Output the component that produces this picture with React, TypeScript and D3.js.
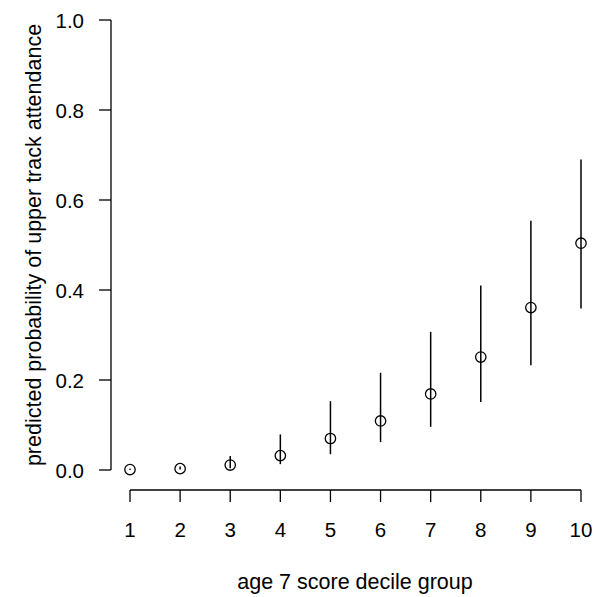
import React from "react";
import * as d3 from "d3";

const groups = [1, 2, 3, 4, 5, 6, 7, 8, 9, 10];
const estimates = [0.001, 0.003, 0.011, 0.032, 0.070, 0.109, 0.169, 0.251, 0.361, 0.504];
const lowers = [0.0, 0.001, 0.004, 0.013, 0.035, 0.062, 0.096, 0.151, 0.233, 0.359];
const uppers = [0.003, 0.008, 0.031, 0.079, 0.153, 0.216, 0.307, 0.410, 0.554, 0.690];
const yTicks = [0, 0.2, 0.4, 0.6, 0.8, 1.0];
const xLabel = "age 7 score decile group";
const yLabel = "predicted probability of upper track attendance";

const W = 596;
const H = 597;
const FONT = "'Liberation Sans', Arial, Helvetica, sans-serif";

export default function App() {
  const x = d3.scaleLinear().domain([1, 10]).range([130, 581]);
  const y = d3.scaleLinear().domain([0, 1]).range([470, 20]);
  const axisY = 490;
  const axisX = 111;
  const fs = 20.5;
  const fsTitle = 21.5;
  return (
    <svg
      width={W}
      height={H}
      style={{ position: "absolute", left: 0, top: 0, background: "#fff" }}
      fontFamily={FONT}
    >
      <rect x={0} y={0} width={W} height={H} fill="#fff" />
      {groups.map((g, i) => (
        <line
          key={"e" + g}
          x1={x(g)}
          x2={x(g)}
          y1={y(lowers[i])}
          y2={y(uppers[i])}
          stroke="#000"
          strokeWidth={1.5}
        />
      ))}
      {groups.map((g, i) => (
        <circle
          key={"p" + g}
          cx={x(g)}
          cy={y(estimates[i])}
          r={5.2}
          fill="none"
          stroke="#000"
          strokeWidth={1.3}
        />
      ))}
      <line x1={x(1)} x2={x(10)} y1={axisY} y2={axisY} stroke="#000" strokeWidth={1.3} />
      {groups.map((g) => (
        <g key={"xt" + g}>
          <line x1={x(g)} x2={x(g)} y1={axisY} y2={axisY + 12} stroke="#000" strokeWidth={1.3} />
          <text
            x={x(g)}
            y={529}
            textAnchor="middle"
            dominantBaseline="central"
            fontSize={fs}
            fill="#000"
          >
            {g}
          </text>
        </g>
      ))}
      <line x1={axisX} x2={axisX} y1={y(0)} y2={y(1)} stroke="#000" strokeWidth={1.3} />
      {yTicks.map((t) => (
        <g key={"yt" + t}>
          <line x1={axisX - 12} x2={axisX} y1={y(t)} y2={y(t)} stroke="#000" strokeWidth={1.3} />
          <text
            x={84}
            y={y(t)}
            textAnchor="end"
            dominantBaseline="central"
            fontSize={fs}
            fill="#000"
          >
            {t.toFixed(1)}
          </text>
        </g>
      ))}
      <text x={355} y={582} textAnchor="middle" dominantBaseline="central" fontSize={fsTitle} fill="#000">
        {xLabel}
      </text>
      <text
        transform={`translate(34,${(y(0) + y(1)) / 2}) rotate(-90)`}
        textAnchor="middle"
        dominantBaseline="central"
        fontSize={fsTitle}
        fill="#000"
      >
        {yLabel}
      </text>
    </svg>
  );
}
